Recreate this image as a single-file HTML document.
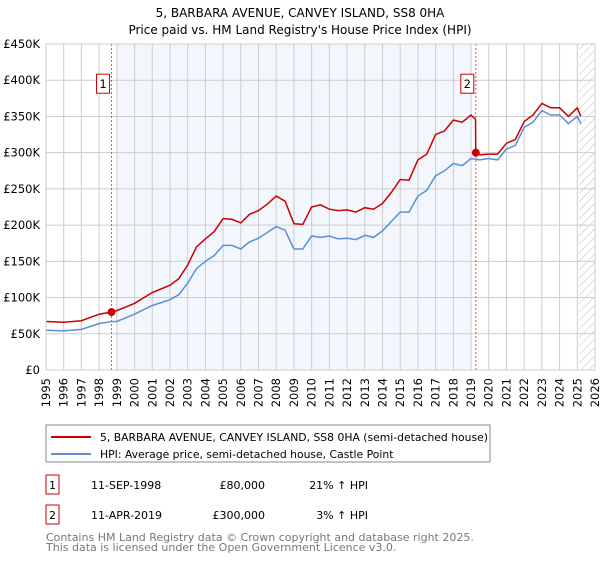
<!DOCTYPE html>
<html><head><meta charset="utf-8"><style>
body{margin:0;background:#fff;font-family:"DejaVu Sans","Liberation Sans",sans-serif;}
svg text{font-family:"DejaVu Sans","Liberation Sans",sans-serif;}
</style></head><body>
<svg id="c" width="600" height="560" xmlns="http://www.w3.org/2000/svg">
<defs><pattern id="hatch" width="6" height="6" patternUnits="userSpaceOnUse" patternTransform="rotate(45)"><line x1="0" y1="0" x2="0" y2="6" stroke="#bbb" stroke-width="1"/></pattern></defs>
<text x="300" y="17" text-anchor="middle" font-size="12">5, BARBARA AVENUE, CANVEY ISLAND, SS8 0HA</text>
<text x="300" y="34" text-anchor="middle" font-size="12">Price paid vs. HM Land Registry's House Price Index (HPI)</text>
<g id="plot"></g>
<g>
<rect x="46" y="425" width="444" height="37" fill="#fff" stroke="#888"/>
<line x1="51" y1="437" x2="91" y2="437" stroke="#cc0000" stroke-width="2"/>
<text x="100" y="441" font-size="10.8">5, BARBARA AVENUE, CANVEY ISLAND, SS8 0HA (semi-detached house)</text>
<line x1="51" y1="454" x2="91" y2="454" stroke="#5b8fd4" stroke-width="2"/>
<text x="100" y="458" font-size="10.8">HPI: Average price, semi-detached house, Castle Point</text>
</g>
<g font-size="11">
<rect x="46" y="475" width="13" height="19" fill="#fff" stroke="#cc0000"/><text x="52.5" y="489" text-anchor="middle">1</text>
<text x="91" y="489">11-SEP-1998</text><text x="265" y="489" text-anchor="end">£80,000</text><text x="368" y="489" text-anchor="end">21% ↑ HPI</text>
<rect x="46" y="505" width="13" height="19" fill="#fff" stroke="#cc0000"/><text x="52.5" y="519" text-anchor="middle">2</text>
<text x="91" y="519">11-APR-2019</text><text x="265" y="519" text-anchor="end">£300,000</text><text x="368" y="519" text-anchor="end">3% ↑ HPI</text>
</g>
<text x="46" y="541" font-size="11" fill="#777">Contains HM Land Registry data © Crown copyright and database right 2025.</text>
<text x="46" y="551" font-size="11" fill="#777">This data is licensed under the Open Government Licence v3.0.</text>
</svg>
<script>
const hpiYears=[1995,1996,1997,1998,1998.7,1999,2000,2001,2002,2002.5,2003,2003.5,2004,2004.5,2005,2005.5,2006,2006.5,2007,2007.5,2008,2008.5,2009,2009.5,2010,2010.5,2011,2011.5,2012,2012.5,2013,2013.5,2014,2014.5,2015,2015.5,2016,2016.5,2017,2017.5,2018,2018.5,2019,2019.5,2020,2020.5,2021,2021.5,2022,2022.5,2023,2023.5,2024,2024.5,2025,2025.2];
const hpiValues=[55,54,56,64,67,67,77,89,97,104,120,140,150,158,172,172,167,177,182,190,198,193,167,167,185,183,185,181,182,180,186,183,192,205,218,218,240,248,268,275,285,282,292,290,292,290,305,310,335,342,358,352,352,340,350,340];
const propYears=[1995,1996,1997,1998,1998.7,1999,2000,2001,2002,2002.5,2003,2003.5,2004,2004.5,2005,2005.5,2006,2006.5,2007,2007.5,2008,2008.5,2009,2009.5,2010,2010.5,2011,2011.5,2012,2012.5,2013,2013.5,2014,2014.5,2015,2015.5,2016,2016.5,2017,2017.5,2018,2018.5,2019,2019.25,2019.27,2019.5,2020,2020.5,2021,2021.5,2022,2022.5,2023,2023.5,2024,2024.5,2025,2025.2];
const propValues=[67,66,68,77,80,82,92,107,117,126,145,170,181,191,209,208,203,215,220,229,240,233,202,201,225,228,222,220,221,218,224,222,230,245,263,262,290,298,325,330,345,342,352,346,300,297,298,298,313,318,343,352,368,362,362,350,362,350];
const saleYears=[1998.7,2019.27];
const saleValues=[80,300];
const saleLabels=["1","2"];
const yTicks=[0,50,100,150,200,250,300,350,400,450];
const yTickLabels=["£0","£50K","£100K","£150K","£200K","£250K","£300K","£350K","£400K","£450K"];
const xTicks=[1995,1996,1997,1998,1999,2000,2001,2002,2003,2004,2005,2006,2007,2008,2009,2010,2011,2012,2013,2014,2015,2016,2017,2018,2019,2020,2021,2022,2023,2024,2025,2026];

const L=46,R=595,T=44,B=370;
const x=v=>L+(v-1995)/(2026-1995)*(R-L);
const y=v=>B-v/450*(B-T);
const NS="http://www.w3.org/2000/svg";
const g=document.getElementById('plot');
function mk(tag,attrs,parent){const e=document.createElementNS(NS,tag);for(const k in attrs)e.setAttribute(k,attrs[k]);(parent||g).appendChild(e);return e;}
let r=mk('rect',{x:x(1999),y:T,width:x(2019)-x(1999),height:B-T,fill:'#eef3fc',opacity:0.7});


r=mk('rect',{x:x(2025.1),y:T,width:R-x(2025.1),height:B-T,fill:'url(#hatch)'});


xTicks.forEach(t=>{
 const l=mk('line',{x1:x(t),x2:x(t),y1:T,y2:B,stroke:'#ccc','stroke-width':1});
 
 
 const tx=mk('text',{x:0,y:0,'font-size':11.5,'text-anchor':'end',transform:`translate(${x(t)+4},${B+8}) rotate(-90)`});
 tx.textContent=t;
 
 
});
yTicks.forEach((t,i)=>{
 const l=mk('line',{x1:L,x2:R,y1:y(t),y2:y(t),stroke:'#ccc','stroke-width':1});
 
 
 const tx=mk('text',{x:L-6,y:y(t)+4,'font-size':11.5,'text-anchor':'end'});
 tx.textContent=yTickLabels[i];
 
 
});
saleYears.forEach((s,i)=>{
 const l=mk('line',{x1:x(s),x2:x(s),y1:T,y2:B,stroke:'#e05050','stroke-width':1,'stroke-dasharray':'2,2'});
 
 
});
const pl=(xs,vs)=>xs.map((v,i)=>x(v).toFixed(1)+','+y(vs[i]).toFixed(1)).join(' ');
let p=mk('polyline',{points:pl(hpiYears,hpiValues),fill:'none',stroke:'#5b8fd4','stroke-width':1.5});


p=mk('polyline',{points:pl(propYears,propValues),fill:'none',stroke:'#cc0000','stroke-width':1.5});


saleYears.forEach((s,i)=>{
 const c=mk('circle',{cx:x(s),cy:y(saleValues[i]),r:4,fill:'#cc0000'});
 
 
 const bx=mk('rect',{x:x(s)-15,y:y(400)-6,width:13,height:19,fill:'#fff',stroke:'#cc0000'});
 
 
 const tx=mk('text',{x:x(s)-8.5,y:y(400)+8,'font-size':11.5,'text-anchor':'middle'});
 tx.textContent=saleLabels[i];
 
 
});
const ax=mk('rect',{x:L,y:T,width:R-L,height:B-T,fill:'none',stroke:'#ccc'});


</script>
</body></html>
